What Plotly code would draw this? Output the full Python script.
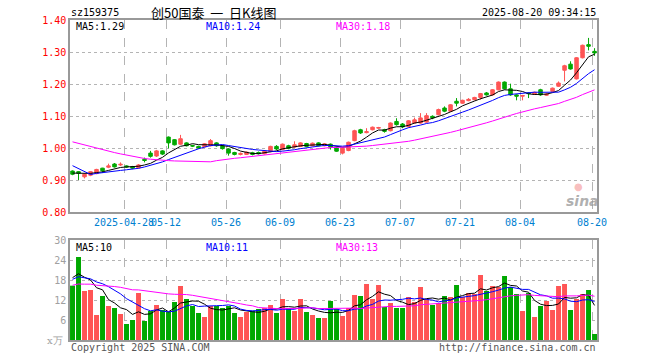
import plotly.graph_objects as go

# ---------------- data ----------------
dates = [
    "2025-04-15", "2025-04-16", "2025-04-17", "2025-04-18", "2025-04-21", "2025-04-22", "2025-04-23",
    "2025-04-24", "2025-04-25", "2025-04-28", "2025-04-29", "2025-04-30",
    "2025-05-06", "2025-05-07", "2025-05-08", "2025-05-09", "2025-05-12", "2025-05-13", "2025-05-14",
    "2025-05-15", "2025-05-16", "2025-05-19", "2025-05-20", "2025-05-21", "2025-05-22", "2025-05-23",
    "2025-05-26", "2025-05-27", "2025-05-28", "2025-05-29", "2025-05-30",
    "2025-06-03", "2025-06-04", "2025-06-05", "2025-06-06", "2025-06-09", "2025-06-10", "2025-06-11",
    "2025-06-12", "2025-06-13", "2025-06-16", "2025-06-17", "2025-06-18", "2025-06-19", "2025-06-20",
    "2025-06-23", "2025-06-24", "2025-06-25", "2025-06-26", "2025-06-27", "2025-06-30",
    "2025-07-01", "2025-07-02", "2025-07-03", "2025-07-04", "2025-07-07", "2025-07-08", "2025-07-09",
    "2025-07-10", "2025-07-11", "2025-07-14", "2025-07-15", "2025-07-16", "2025-07-17", "2025-07-18",
    "2025-07-21", "2025-07-22", "2025-07-23", "2025-07-24", "2025-07-25", "2025-07-28", "2025-07-29",
    "2025-07-30", "2025-07-31",
    "2025-08-01", "2025-08-04", "2025-08-05", "2025-08-06", "2025-08-07", "2025-08-08", "2025-08-11",
    "2025-08-12", "2025-08-13", "2025-08-14", "2025-08-15", "2025-08-18", "2025-08-19", "2025-08-20",
]

open_ = [0.928, 0.926, 0.910, 0.915, 0.920, 0.937, 0.940, 0.950, 0.947, 0.944,
         0.942, 0.938, 0.965, 0.984, 0.975, 0.991, 1.034, 1.026, 1.012, 1.016,
         1.008, 1.005, 1.004, 1.007, 1.016, 1.007, 0.997, 0.986, 0.980, 0.980,
         0.985, 0.986, 0.982, 0.989, 1.005, 0.995, 1.007, 1.003, 1.005, 1.014,
         1.007, 1.016, 1.007, 1.012, 1.000, 0.984, 0.992, 1.023, 1.057, 1.048,
         1.057, 1.062, 1.057, 1.054, 1.083, 1.075, 1.067, 1.078, 1.078, 1.081,
         1.099, 1.104, 1.125, 1.115, 1.146, 1.140, 1.148, 1.151, 1.158, 1.172,
         1.166, 1.182, 1.206, 1.185, 1.166, 1.162, 1.172, 1.168, 1.182, 1.165,
         1.177, 1.193, 1.243, 1.262, 1.216, 1.282, 1.323, 1.302]
high = [0.930, 0.928, 0.920, 0.928, 0.935, 0.938, 0.951, 0.953, 0.955, 0.946,
        0.944, 0.950, 0.970, 0.991, 0.994, 0.993, 1.036, 1.028, 1.041, 1.018,
        1.010, 1.007, 1.015, 1.028, 1.018, 1.009, 0.999, 0.988, 0.986, 0.989,
        0.988, 0.989, 0.993, 1.007, 1.009, 1.014, 1.010, 1.021, 1.018, 1.016,
        1.017, 1.018, 1.015, 1.014, 1.002, 1.001, 1.020, 1.057, 1.060, 1.062,
        1.067, 1.066, 1.060, 1.080, 1.093, 1.078, 1.087, 1.095, 1.109, 1.109,
        1.102, 1.123, 1.130, 1.137, 1.156, 1.151, 1.156, 1.160, 1.172, 1.175,
        1.184, 1.208, 1.208, 1.201, 1.168, 1.166, 1.174, 1.176, 1.185, 1.172,
        1.189, 1.208, 1.260, 1.271, 1.284, 1.323, 1.344, 1.312]
low = [0.915, 0.900, 0.905, 0.912, 0.918, 0.922, 0.937, 0.939, 0.944, 0.938,
       0.934, 0.936, 0.955, 0.970, 0.972, 0.978, 0.999, 1.008, 1.010, 1.005,
       1.003, 0.998, 1.002, 1.005, 1.004, 0.995, 0.976, 0.977, 0.977, 0.978,
       0.977, 0.980, 0.980, 0.987, 0.993, 0.993, 0.996, 1.001, 1.003, 1.003,
       1.005, 1.005, 1.005, 0.995, 0.988, 0.980, 0.990, 1.021, 1.044, 1.046,
       1.055, 1.060, 1.048, 1.052, 1.070, 1.062, 1.064, 1.076, 1.076, 1.079,
       1.090, 1.102, 1.112, 1.113, 1.130, 1.138, 1.146, 1.149, 1.151, 1.164,
       1.164, 1.180, 1.183, 1.163, 1.149, 1.149, 1.156, 1.166, 1.163, 1.163,
       1.175, 1.191, 1.208, 1.245, 1.214, 1.280, 1.305, 1.288]
close = [0.918, 0.921, 0.918, 0.926, 0.933, 0.929, 0.944, 0.941, 0.949, 0.941,
         0.937, 0.947, 0.961, 0.974, 0.991, 0.981, 1.016, 1.010, 1.029, 1.007,
         1.006, 1.000, 1.013, 1.023, 1.007, 0.998, 0.984, 0.980, 0.983, 0.987,
         0.980, 0.982, 0.991, 1.005, 0.997, 1.012, 0.999, 1.010, 1.016, 1.005,
         1.015, 1.007, 1.013, 1.003, 0.990, 0.999, 1.018, 1.054, 1.047, 1.051,
         1.065, 1.064, 1.052, 1.078, 1.073, 1.066, 1.085, 1.088, 1.094, 1.101,
         1.094, 1.120, 1.115, 1.135, 1.140, 1.149, 1.152, 1.158, 1.170, 1.166,
         1.182, 1.206, 1.185, 1.166, 1.162, 1.164, 1.170, 1.174, 1.166, 1.168,
         1.187, 1.203, 1.257, 1.247, 1.282, 1.321, 1.318, 1.297]

# volume in units of 10,000 (x万)
volume = [16.3, 24.9, 14.7, 15.0, 7.5, 13.2, 10.2, 9.6, 7.8, 4.8,
          6.0, 14.1, 5.7, 8.7, 10.5, 9.0, 8.4, 11.4, 16.2, 12.3,
          10.2, 8.1, 6.9, 10.2, 10.2, 9.6, 10.2, 8.1, 6.9, 8.4,
          8.8, 9.3, 9.6, 10.5, 8.1, 12.3, 9.6, 8.7, 12.3, 8.4,
          7.5, 6.6, 6.6, 11.7, 9.3, 7.2, 9.6, 13.5, 13.2, 16.8,
          12.3, 16.5, 9.9, 11.1, 9.6, 9.6, 12.9, 11.4, 15.9, 12.3,
          10.5, 11.1, 13.2, 12.9, 16.5, 12.9, 14.1, 13.8, 19.5, 14.7,
          16.2, 15.9, 19.2, 15.9, 13.8, 8.7, 14.1, 6.9, 10.2, 11.7,
          9.0, 16.2, 16.8, 9.0, 12.3, 13.8, 15.0, 1.8]

# sessions before the first drawn day, only used so the moving averages start at the left edge
lead_close = [1.07, 1.08, 1.07, 1.09, 1.08, 1.07, 1.06, 1.07, 1.06, 1.05,
              1.06, 1.05, 1.04, 1.05, 1.04, 1.03, 1.04, 1.05, 1.04, 1.03,
              1.02, 1.02, 1.00, 0.90, 0.90, 0.92, 0.92, 0.93, 0.92]
lead_volume = [14, 16, 15, 17, 15, 14, 16, 15, 17, 16,
               15, 14, 16, 15, 17, 16, 15, 16, 15, 17,
               17, 18, 18, 17, 18.5, 19, 20, 19, 19.2]

tick_dates = ["2025-04-28", "2025-05-12", "2025-05-26", "2025-06-09", "2025-06-23",
              "2025-07-07", "2025-07-21", "2025-08-04", "2025-08-20"]
tick_labels = ["2025-04-28", "05-12", "05-26", "06-09", "06-23", "07-07", "07-21", "08-04", "08-20"]

price_ticks = [0.80, 0.90, 1.00, 1.10, 1.20, 1.30, 1.40]
vol_ticks = [6, 12, 18, 24, 30]

# ---------------- helpers ----------------
n = len(dates)
xs = list(range(n))


def moving_average(lead, vals, w):
    full = list(lead) + list(vals)
    off = len(lead)
    out = []
    for i in range(len(vals)):
        win = full[off + i - w + 1: off + i + 1]
        out.append(sum(win) / len(win))
    return out


ma5 = moving_average(lead_close, close, 5)
ma10 = moving_average(lead_close, close, 10)
ma30 = moving_average(lead_close, close, 30)
vma5 = moving_average(lead_volume, volume, 5)
vma10 = moving_average(lead_volume, volume, 10)
vma30 = moving_average(lead_volume, volume, 30)

RED = "#ff5555"
GREEN = "#00a800"
MONO = "DejaVu Sans Mono"

vol_colors = [RED if c >= o else GREEN for o, c in zip(open_, close)]
tickpos = [dates.index(d) - 0.42 for d in tick_dates]

fig = go.Figure()
fig.add_trace(go.Candlestick(
    x=xs, open=open_, high=high, low=low, close=close,
    increasing=dict(line=dict(color=RED, width=1), fillcolor=RED),
    decreasing=dict(line=dict(color=GREEN, width=1), fillcolor=GREEN),
    whiskerwidth=0, xaxis="x", yaxis="y", showlegend=False, hoverinfo="skip",
))
for vals, col in [(ma5, "#000000"), (ma10, "#0000ff"), (ma30, "#ff00ff")]:
    fig.add_trace(go.Scatter(x=xs, y=vals, mode="lines", line=dict(color=col, width=1),
                             xaxis="x", yaxis="y", showlegend=False, hoverinfo="skip"))

fig.add_trace(go.Bar(x=xs, y=volume, marker=dict(color=vol_colors, line=dict(width=0)),
                     width=0.83, xaxis="x2", yaxis="y2", showlegend=False, hoverinfo="skip"))
for vals, col in [(vma5, "#000000"), (vma10, "#0000ff"), (vma30, "#ff00ff")]:
    fig.add_trace(go.Scatter(x=xs, y=vals, mode="lines", line=dict(color=col, width=1),
                             xaxis="x2", yaxis="y2", showlegend=False, hoverinfo="skip"))

xr = [-0.42, 87.41]
common_x = dict(range=xr, tickmode="array", tickvals=tickpos, showgrid=True, gridcolor="#b4b4b4",
                griddash="dash", gridwidth=1, zeroline=False, showline=True, mirror=True,
                linecolor="#999999", linewidth=1.5, ticks="", fixedrange=True, automargin=False,
                tickangle=0)

fig.update_layout(
    width=660, height=360,
    margin=dict(l=70, r=63, t=20, b=20),
    paper_bgcolor="white", plot_bgcolor="white",
    boxgap=0.17,
    xaxis=dict(**common_x, domain=[0, 1], anchor="y", ticktext=tick_labels,
               tickfont=dict(family=MONO, size=10, color="#0080d0"), rangeslider=dict(visible=False)),
    xaxis2=dict(**common_x, domain=[0, 1], anchor="y2", matches="x", showticklabels=False),
    yaxis=dict(domain=[0.4, 1], range=[0.80, 1.40], tickmode="array", tickvals=price_ticks,
               ticktext=["%.2f" % v for v in price_ticks],
               tickfont=dict(family=MONO, size=10, color="#ff0000"),
               showgrid=True, gridcolor="#b4b4b4", griddash="dot", zeroline=False,
               showline=True, mirror=True, linecolor="#999999", linewidth=1.5, ticks="",
               fixedrange=True, automargin=False),
    yaxis2=dict(domain=[0, 0.3125], range=[0, 30], tickmode="array", tickvals=vol_ticks,
                ticktext=[str(v) for v in vol_ticks],
                tickfont=dict(family=MONO, size=10, color="#a0a0a0"),
                showgrid=True, gridcolor="#b4b4b4", griddash="dot", zeroline=False,
                showline=True, mirror=True, linecolor="#999999", linewidth=1.5, ticks="",
                fixedrange=True, automargin=False),
)


def px(x):
    return (x - 70) / 527.0


def py(y):
    return (340 - y) / 320.0


def note(text, x, y, color="#000000", anchor="left", size=10, family=MONO):
    fig.add_annotation(text=text, x=px(x), y=py(y), xref="paper", yref="paper", showarrow=False,
                       xanchor=anchor, yanchor="middle", font=dict(family=family, size=size, color=color))


note("sz159375", 69, 13)
note("创50国泰&nbsp; 一 &nbsp;日K线图", 213, 12.5, anchor="center", size=13, family="Noto Sans CJK SC")
note("2025-08-20 09:34:15", 598, 13, anchor="right")
note("MA5:%.2f" % ma5[-1], 74, 26)
note("MA10:%.2f" % ma10[-1], 204, 26, color="#0000ff")
note("MA30:%.2f" % ma30[-1], 334, 26, color="#ff00ff")
note("MA5:%d" % int(vma5[-1]), 74, 247)
note("MA10:%d" % int(vma10[-1]), 204, 247, color="#0000ff")
note("MA30:%d" % int(vma30[-1]), 334, 247, color="#ff00ff")
note("x万", 65, 340, color="#a0a0a0", anchor="right", family="DejaVu Serif")
note("Copyright 2025 SINA.COM", 69, 347, color="#555555")
note("http://finance.sina.com.cn", 598, 347, color="#555555", anchor="right")
# sina watermark
note("●", 578, 186, color="rgba(240,110,110,0.45)", anchor="center", size=10, family="DejaVu Sans")
note("<b><i>sina</i></b>", 582, 201, color="rgba(150,150,150,0.75)", anchor="center", size=14,
     family="DejaVu Sans")

fig.write_html("out.html", config={"displayModeBar": False},
               post_script="document.body.style.margin='0';document.body.style.overflow='hidden';")
